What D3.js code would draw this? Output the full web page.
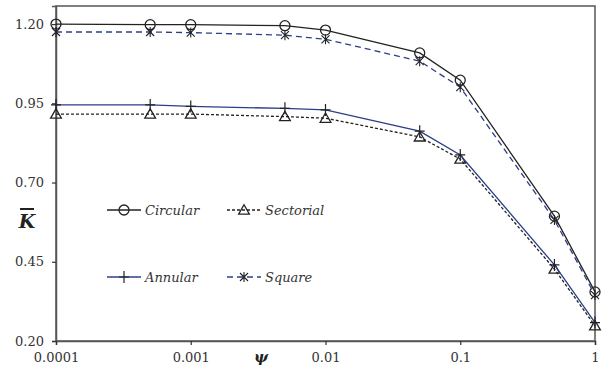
<!DOCTYPE html>
<html>
<head>
<meta charset="utf-8">
<script src="https://cdn.jsdelivr.net/npm/d3@7"></script>
<style>
  body { margin: 0; background: #fff; }
</style>
</head>
<body>
<div id="chart"></div>
<script>
// data
const psi = [0.0001, 0.0005, 0.001, 0.005, 0.01, 0.05, 0.1, 0.5, 1];
const circular  = [1.200, 1.198, 1.198, 1.195, 1.181, 1.109, 1.023, 0.594, 0.355];
const square    = [1.175, 1.175, 1.173, 1.165, 1.152, 1.083, 1.001, 0.582, 0.345];
const annular   = [0.945, 0.945, 0.940, 0.934, 0.929, 0.862, 0.787, 0.440, 0.258];
const sectorial = [0.916, 0.916, 0.916, 0.908, 0.903, 0.844, 0.774, 0.427, 0.248];
const yTicks = [0.20, 0.45, 0.70, 0.95, 1.20];
const xTicks = [0.0001, 0.001, 0.01, 0.1, 1];
const xTickLabels = ['0.0001', '0.001', '0.01', '0.1', '1'];

const width = 603, height = 372;
const margin = {top: 6, right: 8, bottom: 31, left: 56};
const FONT = 'DejaVu Serif';

const navy = '#2b3f86';
const series = [
  {name: 'Circular',  values: circular,  color: '#222', dash: null,  marker: 'circle'},
  {name: 'Sectorial', values: sectorial, color: '#222', dash: '3,2', marker: 'triangle'},
  {name: 'Annular',   values: annular,   color: navy,   dash: null,  marker: 'plus'},
  {name: 'Square',    values: square,    color: navy,   dash: '6,4', marker: 'star'}
];

const svg = d3.select('#chart').append('svg')
  .attr('width', width).attr('height', height)
  .attr('font-family', FONT);

const x = d3.scaleLog().domain([0.0001, 1]).range([margin.left, width - margin.right]);
const y = d3.scaleLinear().domain([0.2, 1.257]).range([height - margin.bottom, margin.top]);

// frame
svg.append('rect')
  .attr('x', x.range()[0]).attr('y', y.range()[1])
  .attr('width', x.range()[1] - x.range()[0])
  .attr('height', y.range()[0] - y.range()[1])
  .attr('fill', 'none').attr('stroke', '#555').attr('stroke-width', 1.5);

// axes
const yAxis = svg.append('g')
  .attr('transform', 'translate(' + margin.left + ',0)')
  .call(d3.axisLeft(y).tickValues(yTicks).tickFormat(d3.format('.2f')).tickSize(4).tickPadding(8));
const xAxis = svg.append('g')
  .attr('transform', 'translate(0,' + (height - margin.bottom) + ')')
  .call(d3.axisBottom(x).tickValues(xTicks).tickFormat((d, i) => xTickLabels[i]).tickSize(4).tickPadding(8));

[yAxis, xAxis].forEach(g => {
  g.attr('font-family', FONT).attr('font-size', 13);
  g.select('.domain').attr('stroke', '#555').attr('stroke-width', 1.5);
  g.selectAll('.tick line').attr('stroke', '#333').attr('stroke-width', 1.2);
  g.selectAll('.tick text').attr('fill', '#333');
});

// axis titles
svg.append('text')
  .attr('x', 27).attr('y', 228)
  .attr('text-anchor', 'middle')
  .attr('font-size', 19).attr('font-weight', 'bold').attr('font-style', 'italic')
  .attr('fill', '#222')
  .text('K');
svg.append('line')
  .attr('x1', 20).attr('x2', 34).attr('y1', 209).attr('y2', 209)
  .attr('stroke', '#222').attr('stroke-width', 2);
svg.append('text')
  .attr('x', 261).attr('y', 362)
  .attr('text-anchor', 'middle')
  .attr('font-size', 15).attr('font-weight', 'bold').attr('font-style', 'italic')
  .attr('fill', '#222')
  .text('ψ');

function drawMarker(g, type, cx, cy, color) {
  if (type === 'circle') {
    g.append('circle').attr('cx', cx).attr('cy', cy).attr('r', 5)
      .attr('fill', 'none').attr('stroke', color).attr('stroke-width', 1.3);
  } else if (type === 'triangle') {
    g.append('path')
      .attr('d', d3.symbol().type(d3.symbolTriangle).size(50)())
      .attr('transform', 'translate(' + cx + ',' + (cy + 1) + ')')
      .attr('fill', 'none').attr('stroke', color).attr('stroke-width', 1.3);
  } else if (type === 'plus') {
    g.append('path')
      .attr('d', 'M-5,0H5M0,-6V6')
      .attr('transform', 'translate(' + cx + ',' + cy + ')')
      .attr('fill', 'none').attr('stroke', '#222').attr('stroke-width', 1.2);
  } else if (type === 'star') {
    g.append('path')
      .attr('d', 'M-4,-4L4,4M-4,4L4,-4M0,-5V5')
      .attr('transform', 'translate(' + cx + ',' + cy + ')')
      .attr('fill', 'none').attr('stroke', '#222').attr('stroke-width', 1.1);
  }
}

const line = d3.line()
  .x(d => x(d[0]))
  .y(d => y(d[1]));

series.forEach(s => {
  const pts = psi.map((p, i) => [p, s.values[i]]);
  const g = svg.append('g');
  g.append('path')
    .datum(pts)
    .attr('d', line)
    .attr('fill', 'none')
    .attr('stroke', s.color)
    .attr('stroke-width', 1.3)
    .attr('stroke-dasharray', s.dash);
  pts.forEach(p => drawMarker(g, s.marker, x(p[0]), y(p[1]), s.color));
});

// legend
const legendPos = [
  {lx: 107, ly: 210},
  {lx: 227, ly: 210},
  {lx: 107, ly: 277},
  {lx: 227, ly: 277}
];
series.forEach((s, i) => {
  const p = legendPos[i];
  const g = svg.append('g');
  g.append('line')
    .attr('x1', p.lx).attr('x2', p.lx + 34)
    .attr('y1', p.ly).attr('y2', p.ly)
    .attr('stroke', s.color).attr('stroke-width', 1.3)
    .attr('stroke-dasharray', s.dash);
  drawMarker(g, s.marker, p.lx + 17, p.ly, s.color);
  g.append('text')
    .attr('x', p.lx + 38).attr('y', p.ly + 5)
    .attr('font-size', 13).attr('font-style', 'italic')
    .attr('fill', '#333')
    .text(s.name);
});
</script>
</body>
</html>
